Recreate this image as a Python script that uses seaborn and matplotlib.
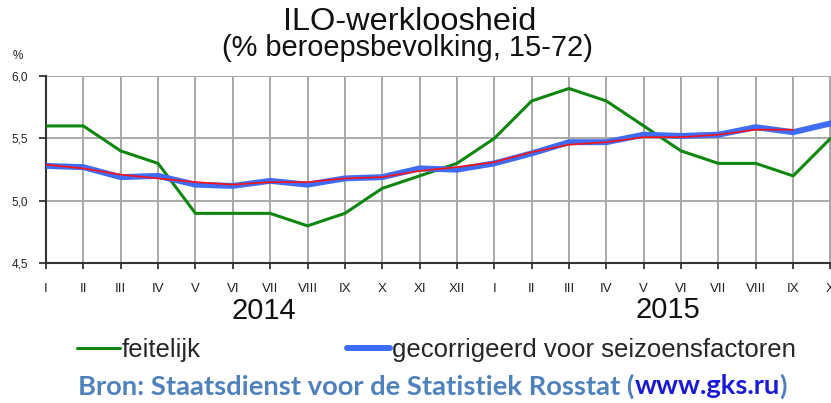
import matplotlib
matplotlib.use('Agg')
import matplotlib.pyplot as plt
import matplotlib.transforms as mtransforms
from matplotlib.lines import Line2D
import seaborn as sns
import numpy as np

# ---------------- data ----------------
months = ['I', 'II', 'III', 'IV', 'V', 'VI', 'VII', 'VIII', 'IX', 'X', 'XI', 'XII',
          'I', 'II', 'III', 'IV', 'V', 'VI', 'VII', 'VIII', 'IX', 'X']
feitelijk = [5.6, 5.6, 5.4, 5.3, 4.9, 4.9, 4.9, 4.8, 4.9, 5.1, 5.2, 5.3,
             5.5, 5.8, 5.9, 5.8, 5.6, 5.4, 5.3, 5.3, 5.2, 5.5]
gecorrigeerd = [5.28, 5.27, 5.19, 5.20, 5.13, 5.12, 5.16, 5.13, 5.18, 5.19, 5.26, 5.25,
                5.30, 5.38, 5.47, 5.47, 5.53, 5.52, 5.53, 5.59, 5.55, 5.62]
trend = [5.29, 5.26, 5.21, 5.18, 5.15, 5.13, 5.15, 5.15, 5.18, 5.19, 5.24, 5.27,
         5.31, 5.39, 5.45, 5.47, 5.51, 5.51, 5.53, 5.57, 5.57]
years = ['2014', '2015']
ytick_values = [4.5, 5.0, 5.5, 6.0]
ytick_labels = ['4,5', '5,0', '5,5', '6,0']
legend_labels = ['feitelijk', 'gecorrigeerd voor seizoensfactoren']

# ---------------- style ----------------
sns.set_theme(style='white')
plt.rcParams['font.family'] = ['Liberation Sans', 'DejaVu Sans']

W, H = 831, 403
fig = plt.figure(figsize=(W / 100, H / 100), dpi=100)
fig.patch.set_facecolor('white')

def fx(px):
    return px / W

def fy(py):
    return 1 - py / H

ax = fig.add_axes([fx(46), fy(263.3), fx(830.5 - 46), (263.3 - 76) / H])
ax.set_facecolor('white')

GREEN = '#0f870f'
BLUE = '#3f6cf5'
RED = '#ff1010'

x_all = np.arange(len(months))
sns.lineplot(x=x_all, y=feitelijk, color=GREEN, lw=2.2, ax=ax, zorder=3)
sns.lineplot(x=x_all, y=gecorrigeerd, color=BLUE, lw=4.3, ax=ax, zorder=4)
sns.lineplot(x=np.arange(len(trend)), y=trend, color=RED, lw=1.2, ax=ax, zorder=5)

ax.set_xlim(0, len(months) - 1)
ax.set_ylim(4.5, 6.0)
ax.set_xticks(x_all)
ax.set_xticklabels(months, family=['Liberation Sans Narrow', 'Liberation Sans'], fontsize=9.5, color='#222222')
ax.set_yticks(ytick_values)
ax.set_yticklabels(ytick_labels, fontsize=8.5, color='#222222')
ax.grid(True, color='#a8a8a8', lw=1.4)
ax.set_axisbelow(True)
for s in ['top', 'right']:
    ax.spines[s].set_visible(False)
for s in ['left', 'bottom']:
    ax.spines[s].set_visible(True)
    ax.spines[s].set_color('#333333')
    ax.spines[s].set_linewidth(1.5)
ax.tick_params(axis='x', length=4, width=1.3, color='#333333', pad=10, bottom=True)
ax.tick_params(axis='y', length=5, width=1.3, color='#333333', pad=8, left=True)
ax.set_xlabel('')
ax.set_ylabel('')
if ax.get_legend():
    ax.get_legend().remove()

# year labels under the months
tr = mtransforms.blended_transform_factory(ax.transData, fig.transFigure)
ax.text(5.83, fy(311), years[0], transform=tr, ha='center', va='center', fontsize=21, color='#111111')
ax.text(16.64, fy(310), years[1], transform=tr, ha='center', va='center', fontsize=21, color='#111111')

# % unit
fig.text(fx(18), fy(56), '%', ha='center', va='center', fontsize=8.5, color='#222222')

# titles
t1 = fig.text(fx(410), fy(22), 'ILO-werkloosheid', ha='center', va='center', fontsize=20, color='#111111')
t2 = fig.text(fx(407), fy(48), '(% beroepsbevolking, 15-72)', ha='center', va='center', fontsize=20, color='#111111')

fig.canvas.draw()
renderer = fig.canvas.get_renderer()

def fit(t, target):
    bb = t.get_window_extent(renderer)
    t.set_fontsize(t.get_fontsize() * target / bb.width)

fit(t1, 252)
fit(t2, 370)

# legend
handles = [Line2D([], [], color=GREEN, lw=2.2), Line2D([], [], color=BLUE, lw=4.3)]
fig.legend(handles, legend_labels, loc='center left', bbox_to_anchor=(fx(77), fy(350)),
           ncol=2, frameon=False, fontsize=18.5, handlelength=1.67, handletextpad=0.08,
           columnspacing=5.7, borderpad=0, borderaxespad=0)

# source line (multi-colour)
src_parts = ['Bron: Staatsdienst voor de Statistiek Rosstat (', 'www.gks.ru', ')']
src_colors = ['#4f81bd', '#1a1ad6', '#4f81bd']
fam = ['Lato', 'Open Sans', 'DejaVu Sans']
texts = [fig.text(0, fy(386), p, ha='left', va='center', fontsize=15, fontweight='bold',
                  family=fam, color=c) for p, c in zip(src_parts, src_colors)]
fig.canvas.draw()
total = sum(t.get_window_extent(renderer).width for t in texts)
scale = 713 / total
for t in texts:
    t.set_fontsize(t.get_fontsize() * scale)
fig.canvas.draw()
xpos = 78
for t in texts:
    t.set_x(fx(xpos))
    xpos += t.get_window_extent(renderer).width

fig.savefig('out.png', dpi=100)
